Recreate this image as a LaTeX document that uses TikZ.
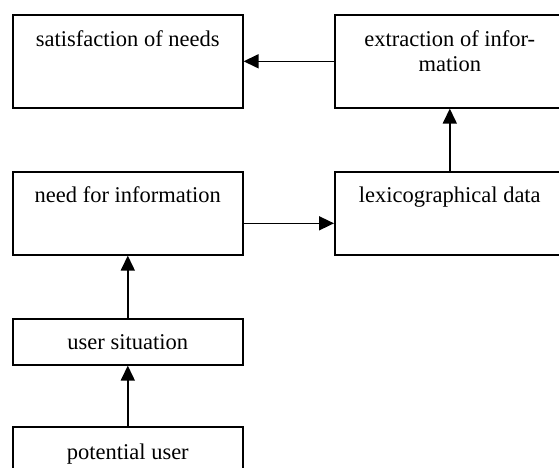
\documentclass[tikz,border=0pt]{standalone}
\usepackage{fontspec}
\setmainfont{Liberation Serif}
\usetikzlibrary{arrows.meta}

\begin{document}
\begin{tikzpicture}[x=1pt, y=-1pt,
        box/.style={rectangle, draw, line width=1.6pt, minimum width=230pt, inner xsep=0pt, inner ysep=0pt, align=center, anchor=north west, font=\fontsize{22.5}{25}\selectfont},
        big/.style={box, text height=32pt, text depth=61pt},
        mid/.style={box, text height=31pt, text depth=52pt},
        small/.style={box, text height=31pt, text depth=15pt},
        arr/.style={-{Triangle[length=15pt, width=14pt]}, line width=1.6pt}]
        \useasboundingbox (0,0) rectangle (559,467);
        \clip (0,0) rectangle (559,467);
        \node[big] (sat) at (12,14) {satisfaction of needs};
        \node[box, text height=57pt, text depth=36pt] (ext) at (334,14) {extraction of infor-\\mation};
        \node[mid] (need) at (12,171) {need for information};
        \node[mid] (lex) at (334,171) {lexicographical data};
        \node[small] (sit) at (12,318) {user situation};
        \node[box, text height=33pt, text depth=15pt] (pot) at (12,426) {potential user};
        \draw[arr] (ext.west) -- (sat.east);
        \draw[arr] (lex.north) -- (ext.south);
        \draw[arr] ([yshift=-10pt]need.east) -- ([yshift=-10pt]lex.west);
        \draw[arr] (sit.north) -- (need.south);
        \draw[arr] (pot.north) -- (sit.south);
    \end{tikzpicture}
\end{document}
